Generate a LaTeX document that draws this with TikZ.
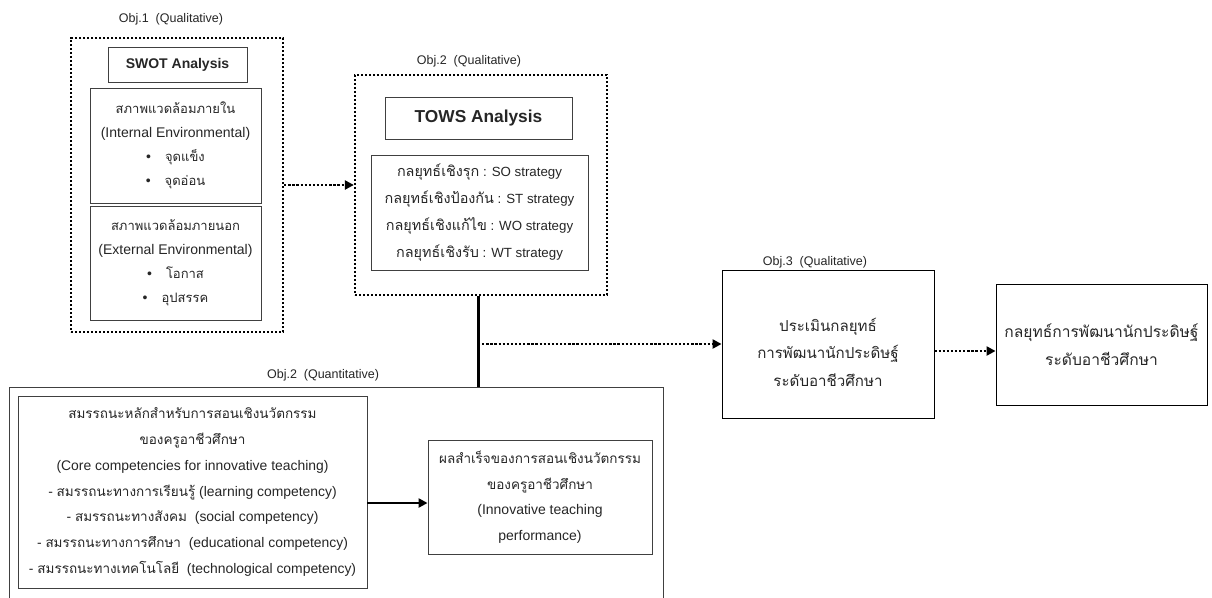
\documentclass[tikz,border=0pt]{standalone}
\usepackage{fontspec}
\setmainfont{Liberation Sans}
\newfontfamily\thai[Script=Thai]{Loma}
\def\thaisize{13.5}
\newcommand{\tht}[1]{{\thai\fontsize{\thaisize}{\baselineskip}\selectfont #1}}
\usetikzlibrary{arrows.meta}
\begin{document}
\begin{tikzpicture}[x=1pt,y=-1pt,
  dotbox/.style={draw, line width=2.3pt, dash pattern=on 2.3pt off 1.7pt, inner sep=0pt},
  box/.style={draw=black!75, line width=0.9pt, inner sep=0pt, align=center, text=black!85,
              font=\fontsize{14}{24}\selectfont},
  plainbox/.style={draw=black, line width=0.9pt, inner sep=0pt},
  lbl/.style={font=\fontsize{12.5}{14}\selectfont, text=black!85, inner sep=0pt},
  txt/.style={align=center, text=black!85, inner sep=0pt},
  darr/.style={line width=2.3pt, dash pattern=on 2.3pt off 1.8pt, -{Triangle[length=9pt,width=9pt]}},
  sarr/.style={line width=2.6pt, -{Triangle[length=9pt,width=9pt]}},
  sline/.style={line width=3pt}
]
\useasboundingbox (0,0) rectangle (1212,597);
\fill[white] (0,0) rectangle (1212,597);

% Obj.1
\node[lbl] (l1) at (171,19) {Obj.1\ \ (Qualitative)};
\node[dotbox, minimum width=212pt, minimum height=294pt] (obj1) at (177,185) {};
\node[box, minimum width=139pt, minimum height=35pt, font=\bfseries\fontsize{14}{16}\selectfont] (swot) at (177.5,64.5) {SWOT Analysis};
\node[box, minimum width=171pt, minimum height=115pt, font=\fontsize{14}{24}\selectfont\def\thaisize{13}] (int) at (175.5,145.5)
  {\tht{สภาพแวดล้อมภายใน}\\(Internal Environmental)\\•\quad\tht{จุดแข็ง}\\•\quad\tht{จุดอ่อน}};
\node[box, minimum width=171pt, minimum height=114pt, font=\fontsize{14}{24}\selectfont\def\thaisize{13}] (ext) at (175.5,263)
  {\tht{สภาพแวดล้อมภายนอก}\\(External Environmental)\\•\quad\tht{โอกาส}\\•\quad\tht{อุปสรรค}};

% Obj.2 qualitative
\node[lbl] (l2) at (469,61) {Obj.2\ \ (Qualitative)};
\node[dotbox, minimum width=252pt, minimum height=220pt] (obj2) at (481,185) {};
\node[box, minimum width=187pt, minimum height=42pt, font=\bfseries\fontsize{17.3}{19}\selectfont] (tows) at (478.5,118) {TOWS Analysis};
\node[box, minimum width=217pt, minimum height=115pt, font=\fontsize{13.3}{27}\selectfont\def\thaisize{14.4}] (strat) at (479.5,212.5)
  {\tht{กลยุทธ์เชิงรุก} : SO strategy\\\tht{กลยุทธ์เชิงป้องกัน} : ST strategy\\\tht{กลยุทธ์เชิงแก้ไข} : WO strategy\\\tht{กลยุทธ์เชิงรับ} : WT strategy};

% Obj.3
\node[lbl] (l3) at (815,262) {Obj.3\ \ (Qualitative)};
\node[plainbox, minimum width=212pt, minimum height=148pt] (obj3) at (828,344) {};
\node[txt, font=\fontsize{15}{27.5}\selectfont\def\thaisize{15.1}] (t3) at (828,352)
  {\tht{ประเมินกลยุทธ์}\\\tht{การพัฒนานักประดิษฐ์}\\\tht{ระดับอาชีวศึกษา}};

% Final
\node[plainbox, minimum width=211pt, minimum height=121pt, align=center, text=black!85,
      font=\fontsize{15}{28}\selectfont\def\thaisize{15.6}] (fin) at (1101.5,344.5)
  {\tht{กลยุทธ์การพัฒนานักประดิษฐ์}\\\tht{ระดับอาชีวศึกษา}};

% Obj.2 quantitative
\node[lbl] (l4) at (323,375) {Obj.2\ \ (Quantitative)};
\node[plainbox, draw=black!75, minimum width=654pt, minimum height=220pt, anchor=north west] (quant) at (9,387) {};
\node[box, minimum width=349pt, minimum height=192pt, font=\fontsize{13.9}{25.8}\selectfont\def\thaisize{13.5}] (comp) at (192.5,492)
  {\tht{สมรรถนะหลักสำหรับการสอนเชิงนวัตกรรม}\\\tht{ของครูอาชีวศึกษา}\\(Core competencies for innovative teaching)\\
   - \tht{สมรรถนะทางการเรียนรู้} (learning competency)\\- \tht{สมรรถนะทางสังคม}\ \ (social competency)\\
   - \tht{สมรรถนะทางการศึกษา}\ \ (educational competency)\\- \tht{สมรรถนะทางเทคโนโลยี}\ \ (technological competency)};
\node[box, minimum width=224pt, minimum height=114pt, font=\fontsize{14}{25.5}\selectfont\def\thaisize{13.5}] (perf) at (540,497)
  {\tht{ผลสำเร็จของการสอนเชิงนวัตกรรม}\\\tht{ของครูอาชีวศึกษา}\\(Innovative teaching\\performance)};

% connectors
\draw[darr] (obj1.east) -- (obj2.west);
\draw[sline] (478,0 |- obj2.south) -- (478,0 |- quant.north);
\coordinate (j) at (478,344);
\draw[darr] (j) -- (obj3.west);
\draw[darr] ([yshift=-7pt]obj3.east) -- ([yshift=-7pt]obj3.east -| fin.west);
\draw[sarr] (comp.east |- 0,503) -- (perf.west |- 0,503);
\end{tikzpicture}
\end{document}
